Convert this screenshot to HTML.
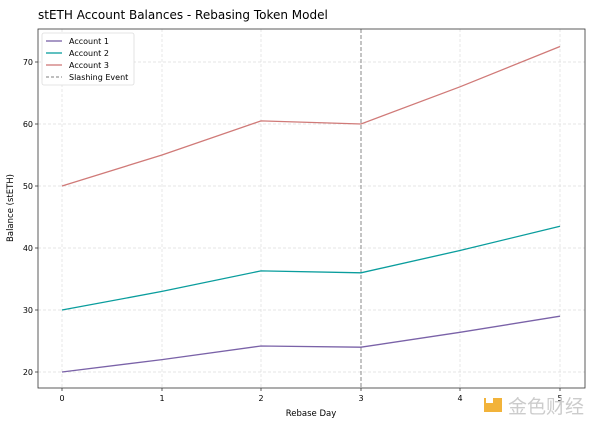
<!DOCTYPE html>
<html><head><style>body{margin:0;background:#fff}svg{display:block;font-family:"DejaVu Sans","Liberation Sans",sans-serif}</style></head>
<body>
<svg width="600" height="425" viewBox="0 0 600 425">
<text x="38" y="19" font-size="12" fill="#000">stETH Account Balances - Rebasing Token Model</text>
<g stroke="#ddd" stroke-width="0.7" stroke-dasharray="3,2">
<line x1="62" y1="29" x2="62" y2="388"/><line x1="162" y1="29" x2="162" y2="388"/><line x1="261" y1="29" x2="261" y2="388"/><line x1="460" y1="29" x2="460" y2="388"/><line x1="560" y1="29" x2="560" y2="388"/>
<line x1="38" y1="372" x2="585" y2="372"/><line x1="38" y1="310" x2="585" y2="310"/><line x1="38" y1="248" x2="585" y2="248"/><line x1="38" y1="186" x2="585" y2="186"/><line x1="38" y1="124" x2="585" y2="124"/><line x1="38" y1="62" x2="585" y2="62"/>
</g>
<line x1="361" y1="29" x2="361" y2="388" stroke="#888" stroke-width="1" stroke-dasharray="4,2"/>
<rect x="38" y="29" width="547" height="359" fill="none" stroke="#333" stroke-width="0.8"/>
<g font-size="8" fill="#000" text-anchor="middle">
<text x="62" y="401">0</text><text x="162" y="401">1</text><text x="261" y="401">2</text><text x="361" y="401">3</text><text x="460" y="401">4</text><text x="560" y="401">5</text>
<text x="311" y="416" font-size="8.5">Rebase Day</text>
</g>
<g font-size="8" fill="#000" text-anchor="end">
<text x="33" y="375">20</text><text x="33" y="313">30</text><text x="33" y="251">40</text><text x="33" y="189">50</text><text x="33" y="127">60</text><text x="33" y="65">70</text>
</g>
<g stroke="#333" stroke-width="0.8">
<line x1="62" y1="388" x2="62" y2="391"/><line x1="162" y1="388" x2="162" y2="391"/><line x1="261" y1="388" x2="261" y2="391"/><line x1="361" y1="388" x2="361" y2="391"/><line x1="460" y1="388" x2="460" y2="391"/><line x1="560" y1="388" x2="560" y2="391"/>
<line x1="35" y1="372" x2="38" y2="372"/><line x1="35" y1="310" x2="38" y2="310"/><line x1="35" y1="248" x2="38" y2="248"/><line x1="35" y1="186" x2="38" y2="186"/><line x1="35" y1="124" x2="38" y2="124"/><line x1="35" y1="62" x2="38" y2="62"/>
</g>
<text transform="translate(13,208) rotate(-90)" font-size="8.5" text-anchor="middle">Balance (stETH)</text>
<polyline fill="none" stroke="#7a62a8" stroke-width="1.3" points="62,372 162,359.6 261,346 361,347.2 460,332.3 560,316.2"/>
<polyline fill="none" stroke="#0a9d9d" stroke-width="1.3" points="62,310 162,291.4 261,270.9 361,272.8 460,250.5 560,226.3"/>
<polyline fill="none" stroke="#d07a78" stroke-width="1.3" points="62,186 162,155 261,120.9 361,124 460,86.8 560,46.5"/>
<rect x="42" y="33" width="92" height="52" fill="#fff" stroke="#ddd" stroke-width="0.8" rx="2"/>
<g stroke-width="1.3">
<line x1="46" y1="41" x2="62" y2="41" stroke="#7a62a8"/><line x1="46" y1="53" x2="62" y2="53" stroke="#0a9d9d"/><line x1="46" y1="65" x2="62" y2="65" stroke="#d07a78"/><line x1="46" y1="77" x2="62" y2="77" stroke="#999" stroke-dasharray="3,2"/>
</g>
<g font-size="8" fill="#000">
<text x="69" y="44">Account 1</text><text x="69" y="56">Account 2</text><text x="69" y="68">Account 3</text><text x="69" y="80">Slashing Event</text>
</g>
<rect x="484" y="398" width="18" height="14" fill="#f2b33a"/>
<rect x="486" y="396" width="7" height="7" fill="#fff"/>
<text x="508" y="413" font-size="19" fill="#ccc" font-family="'Noto Sans CJK SC',sans-serif">金色财经</text>
</svg>
</body></html>
